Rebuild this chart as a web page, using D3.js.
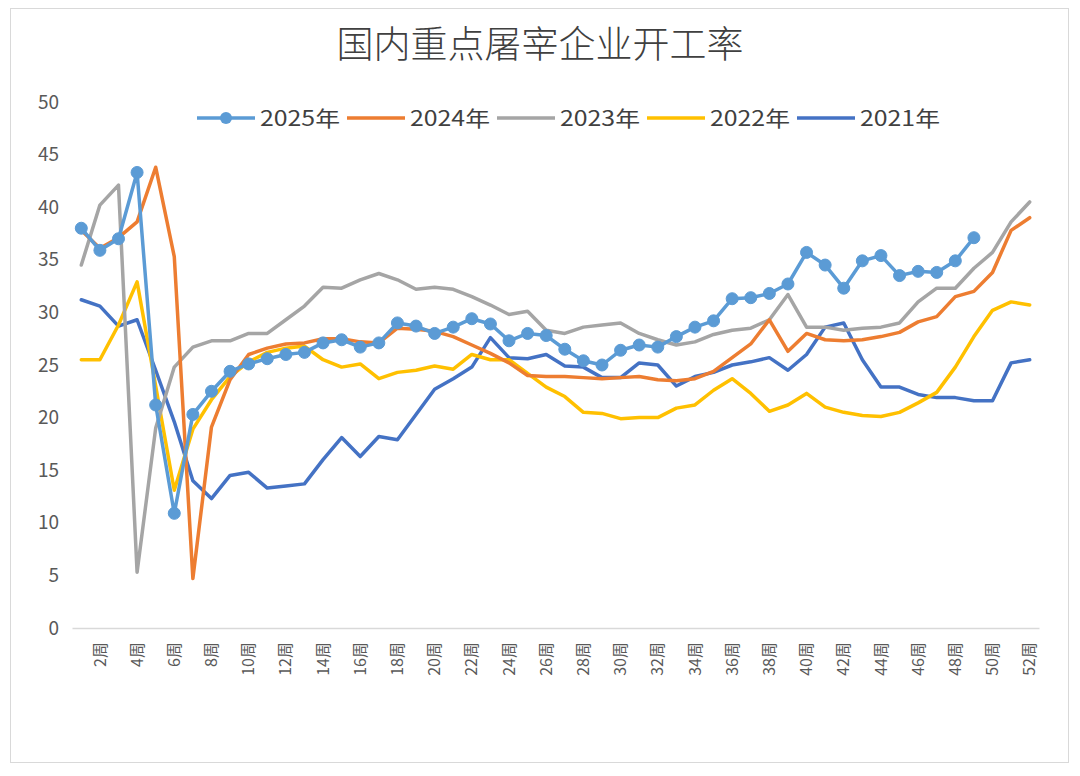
<!DOCTYPE html>
<html>
<head>
<meta charset="utf-8">
<script src="https://cdn.jsdelivr.net/npm/d3@7/dist/d3.min.js"></script>
<style>
  html, body { margin: 0; padding: 0; background: #fff; }
  svg { display: block; }
  text { font-family: "Noto Sans CJK SC", "Noto Sans", sans-serif; }
</style>
</head>
<body>
<svg id="chart" width="1080" height="776"></svg>
<script>
const title = "国内重点屠宰企业开工率";
const weeks = ["1周","2周","3周","4周","5周","6周","7周","8周","9周","10周",
  "11周","12周","13周","14周","15周","16周","17周","18周","19周","20周",
  "21周","22周","23周","24周","25周","26周","27周","28周","29周","30周",
  "31周","32周","33周","34周","35周","36周","37周","38周","39周","40周",
  "41周","42周","43周","44周","45周","46周","47周","48周","49周","50周",
  "51周","52周"];
const yTicks = [0, 5, 10, 15, 20, 25, 30, 35, 40, 45, 50];
const seriesNames = ["2025年", "2024年", "2023年", "2022年", "2021年"];
const seriesColors = ["#5B9BD5", "#ED7D31", "#A5A5A5", "#FFC000", "#4472C4"];

const v2025 = [38.0, 35.9, 37.0, 43.3, 21.2, 10.9, 20.3, 22.5, 24.4, 25.1,
  25.6, 26.0, 26.2, 27.1, 27.4, 26.7, 27.1, 29.0, 28.7, 28.0,
  28.6, 29.4, 28.9, 27.3, 28.0, 27.8, 26.5, 25.4, 25.0, 26.4,
  26.9, 26.7, 27.7, 28.6, 29.2, 31.3, 31.4, 31.8, 32.7, 35.7,
  34.5, 32.3, 34.9, 35.4, 33.5, 33.9, 33.8, 34.9, 37.1];
const v2024 = [37.8, 36.1, 37.1, 38.6, 43.8, 35.3, 4.7, 19.1, 23.6, 26.0,
  26.6, 27.0, 27.1, 27.5, 27.5, 27.2, 27.1, 28.5, 28.4, 28.2,
  27.7, 26.9, 26.1, 25.2, 24.0, 23.9, 23.9, 23.8, 23.7, 23.8,
  23.9, 23.6, 23.5, 23.7, 24.4, 25.7, 27.0, 29.3, 26.3, 28.0,
  27.4, 27.3, 27.4, 27.7, 28.1, 29.1, 29.6, 31.5, 32.0, 33.8,
  37.8, 39.0];
const v2023 = [34.5, 40.2, 42.1, 5.3, 19.0, 24.8, 26.7, 27.3, 27.3, 28.0,
  28.0, 29.3, 30.6, 32.4, 32.3, 33.1, 33.7, 33.1, 32.2, 32.4,
  32.2, 31.5, 30.7, 29.8, 30.1, 28.3, 28.0, 28.6, 28.8, 29.0,
  28.0, 27.4, 26.9, 27.2, 27.9, 28.3, 28.5, 29.3, 31.7, 28.6,
  28.6, 28.3, 28.5, 28.6, 29.0, 31.0, 32.3, 32.3, 34.2, 35.7,
  38.6, 40.5];
const v2022 = [25.5, 25.5, 28.8, 32.9, 23.0, 13.1, 18.9, 21.7, 23.9, 25.3,
  26.2, 26.6, 26.8, 25.5, 24.8, 25.1, 23.7, 24.3, 24.5, 24.9,
  24.6, 26.0, 25.5, 25.5, 24.2, 22.9, 22.0, 20.5, 20.4, 19.9,
  20.0, 20.0, 20.9, 21.2, 22.6, 23.7, 22.3, 20.6, 21.2, 22.3,
  21.0, 20.5, 20.2, 20.1, 20.5, 21.4, 22.4, 24.8, 27.7, 30.2,
  31.0, 30.7];
const v2021 = [31.2, 30.6, 28.7, 29.3, 24.5, 19.6, 14.0, 12.3, 14.5, 14.8,
  13.3, 13.5, 13.7, 16.0, 18.1, 16.3, 18.2, 17.9, 20.3, 22.7,
  23.7, 24.8, 27.6, 25.7, 25.6, 26.0, 24.9, 24.8, 23.8, 23.8,
  25.2, 25.0, 23.0, 23.9, 24.3, 25.0, 25.3, 25.7, 24.5, 26.0,
  28.6, 29.0, 25.5, 22.9, 22.9, 22.2, 21.9, 21.9, 21.6, 21.6,
  25.2, 25.5];

const seriesValues = [v2025, v2024, v2023, v2022, v2021];

const svg = d3.select("#chart");
const W = 1080, H = 776;
svg.append("rect").attr("x", 0).attr("y", 0).attr("width", W).attr("height", H).attr("fill", "#fff");
svg.append("rect").attr("x", 10.5).attr("y", 8.5).attr("width", 1058).attr("height", 754)
  .attr("fill", "none").attr("stroke", "#D9D9D9").attr("stroke-width", 1);

const plot = { left: 72, right: 1039, top: 102, bottom: 628 };

const x = d3.scaleBand().domain(weeks).range([plot.left, plot.right]).paddingInner(0).paddingOuter(0);
const y = d3.scaleLinear().domain([0, 50]).range([plot.bottom, plot.top]);
const cx = d => x(d) + x.bandwidth() / 2;

// title
svg.append("text").attr("x", 540).attr("y", 58).attr("text-anchor", "middle")
  .attr("font-size", 37).attr("fill", "#404040").attr("font-weight", 300).text(title);

// y axis (labels only)
const yAxis = d3.axisLeft(y).tickValues(yTicks).tickSize(0).tickPadding(0);
const gy = svg.append("g").attr("transform", `translate(${plot.left - 13},0)`).call(yAxis);
gy.select(".domain").remove();
gy.selectAll("text").attr("font-size", 19).attr("fill", "#595959")
  .style("font-family", '"Noto Sans CJK SC", sans-serif');

// x axis
const xAxis = d3.axisBottom(x).tickValues(weeks.filter((w, i) => i % 2 === 1)).tickSize(0).tickPadding(0);
const gx = svg.append("g").attr("transform", `translate(0,${plot.bottom})`).call(xAxis);
gx.select(".domain").attr("stroke", "#D9D9D9").attr("stroke-width", 1.5);
gx.selectAll("text")
  .attr("font-size", 16).attr("fill", "#595959")
  .style("font-family", '"Noto Sans CJK SC", sans-serif')
  .attr("text-anchor", "end")
  .attr("dy", "0.35em")
  .attr("transform", "translate(0,14) rotate(-90)")
  .attr("x", 0).attr("y", 0);

// lines: draw 2021 first so 2025 is on top
const line = d3.line().x((d, i) => cx(weeks[i])).y(d => y(d));
const order = [4, 3, 2, 1, 0];
order.forEach(k => {
  svg.append("path").datum(seriesValues[k])
    .attr("fill", "none").attr("stroke", seriesColors[k])
    .attr("stroke-width", 3.5).attr("stroke-linejoin", "round").attr("stroke-linecap", "round")
    .attr("d", line);
});
svg.append("g").selectAll("circle").data(v2025).join("circle")
  .attr("cx", (d, i) => cx(weeks[i])).attr("cy", d => y(d)).attr("r", 6)
  .attr("fill", seriesColors[0]).attr("stroke", seriesColors[0]).attr("stroke-width", 1);

// legend
const legend = svg.append("g");
const legX0 = 197, legStep = 150, legY = 118;
seriesNames.forEach((name, k) => {
  const gx0 = legX0 + k * legStep;
  legend.append("line").attr("x1", gx0).attr("x2", gx0 + 58).attr("y1", legY).attr("y2", legY)
    .attr("stroke", seriesColors[k]).attr("stroke-width", 3.5);
  if (k === 0) {
    legend.append("circle").attr("cx", gx0 + 29).attr("cy", legY).attr("r", 6).attr("fill", seriesColors[0]);
  }
  legend.append("text").attr("x", gx0 + 63).attr("y", legY).attr("dy", "0.36em")
    .attr("font-size", 21).attr("fill", "#404040")
    .attr("textLength", 80).attr("lengthAdjust", "spacingAndGlyphs").text(name);
});
</script>
</body>
</html>
